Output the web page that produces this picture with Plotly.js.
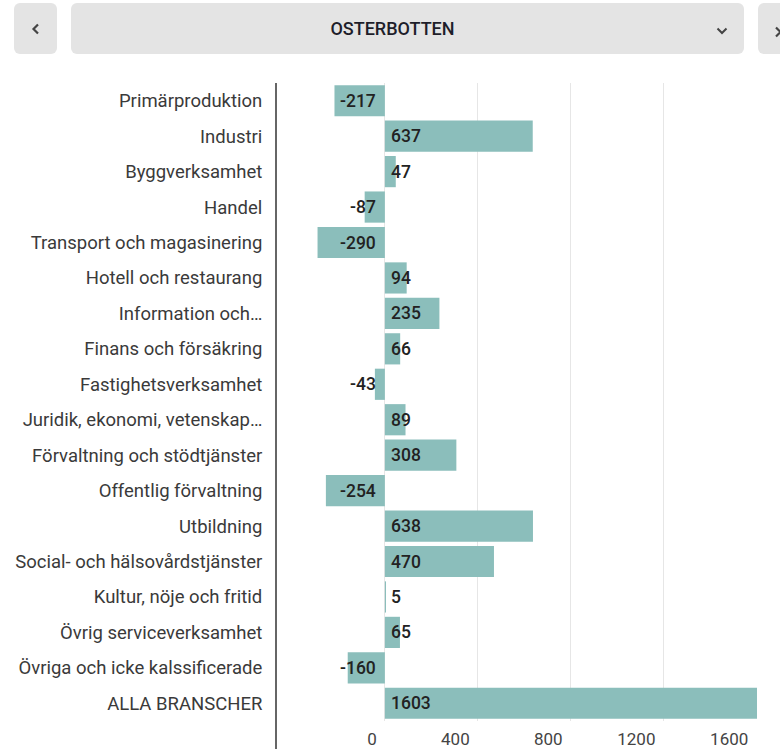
<!DOCTYPE html>
<html>
<head>
<meta charset="utf-8">
<script src="https://cdn.plot.ly/plotly-3.0.1.min.js"></script>
<style>
  html, body { margin: 0; padding: 0; background: #fff; width: 780px; height: 749px; overflow: hidden; }
  #wrap { position: relative; width: 780px; height: 749px; }
  #chart { position: absolute; left: 0; top: 0; width: 780px; height: 749px; }
  .btn { position: absolute; top: 3px; height: 51px; background: #e4e4e4; border-radius: 6px;
         font-family: Roboto, sans-serif; color: #333; display: flex; align-items: center; justify-content: center; box-sizing: border-box; }
  #prev { left: 14px; width: 43px; }
  #main { left: 71px; width: 673px; padding-right: 30px; font-size: 18px; font-weight: 500; color: #1e1e2a; }
  #next { left: 758px; width: 40px; }
  #chev { position: absolute; right: 16px; top: 24px; }
  #nchev { position: absolute; left: 15px; top: 23px; }
</style>
</head>
<body>
<div id="wrap">
  <div id="chart"></div>
  <div class="btn" id="prev"><svg width="10" height="12" viewBox="0 0 10 12"><polyline points="7,1.5 2.5,6 7,10.5" fill="none" stroke="#444" stroke-width="2.2"/></svg></div>
  <div class="btn" id="main">OSTERBOTTEN<svg id="chev" width="12" height="8" viewBox="0 0 12 8"><polyline points="1.5,1.5 6,6 10.5,1.5" fill="none" stroke="#444" stroke-width="2"/></svg></div>
  <div class="btn" id="next"><svg id="nchev" width="10" height="12" viewBox="0 0 10 12"><polyline points="3,1.5 7.5,6 3,10.5" fill="none" stroke="#444" stroke-width="2.2"/></svg></div>
</div>
<script>
const categories = [
  "Primärproduktion",
  "Industri",
  "Byggverksamhet",
  "Handel",
  "Transport och magasinering",
  "Hotell och restaurang",
  "Information och…",
  "Finans och försäkring",
  "Fastighetsverksamhet",
  "Juridik, ekonomi, vetenskap…",
  "Förvaltning och stödtjänster",
  "Offentlig förvaltning",
  "Utbildning",
  "Social- och hälsovårdstjänster",
  "Kultur, nöje och fritid",
  "Övrig serviceverksamhet",
  "Övriga och icke kalssificerade",
  "ALLA BRANSCHER"
];
const values = [-217, 637, 47, -87, -290, 94, 235, 66, -43, 89, 308, -254, 638, 470, 5, 65, -160, 1603];
const tickValues = [-400, 0, 400, 800, 1200, 1600];
const tickLabels = ["", "0", "400", "800", "1200", "1600"];

const annotations = values.map((v, i) => ({
  x: 0, y: categories[i], xref: 'x', yref: 'y',
  text: String(v), showarrow: false,
  xanchor: v < 0 ? 'right' : 'left',
  xshift: v < 0 ? -7 : 4,
  yanchor: 'middle',
  font: { family: 'Roboto, sans-serif', size: 17.5, color: '#222', weight: 500 }
}));

const trace = {
  type: 'bar', orientation: 'h',
  x: values, y: categories,
  marker: { color: '#8bbebb', line: { width: 0 } },
  hoverinfo: 'skip'
};

const layout = {
  width: 780, height: 749,
  margin: { l: 292, r: 23, t: 83, b: 28, pad: 0 },
  paper_bgcolor: '#ffffff', plot_bgcolor: '#ffffff',
  bargap: 0.12,
  showlegend: false,
  xaxis: {
    range: [-400, 1603],
    tickvals: tickValues, ticktext: tickLabels,
    ticklabelposition: 'outside left',
    ticklabelshift: -8,
    ticklabelstandoff: 6,
    showgrid: true, gridcolor: '#e6e6e6', gridwidth: 1,
    zeroline: true, zerolinecolor: '#e6e6e6', zerolinewidth: 1,
    showline: false, ticks: '',
    tickfont: { family: 'Roboto, sans-serif', size: 17, color: '#444' },
    fixedrange: true
  },
  yaxis: {
    autorange: 'reversed',
    type: 'category',
    showgrid: false, zeroline: false, showline: false,
    ticks: 'outside', ticklen: 25, tickcolor: 'rgba(0,0,0,0)',
    tickfont: { family: 'Roboto, sans-serif', size: 18.5, color: '#3a3a3a' },
    fixedrange: true
  },
  annotations: annotations,
  shapes: [{
    type: 'line', xref: 'paper', yref: 'paper',
    x0: -16/465, x1: -16/465, y0: -28/638, y1: 1,
    line: { color: '#666', width: 2 }
  }]
};

Plotly.newPlot('chart', [trace], layout, { displayModeBar: false, staticPlot: true });
</script>
</body>
</html>
